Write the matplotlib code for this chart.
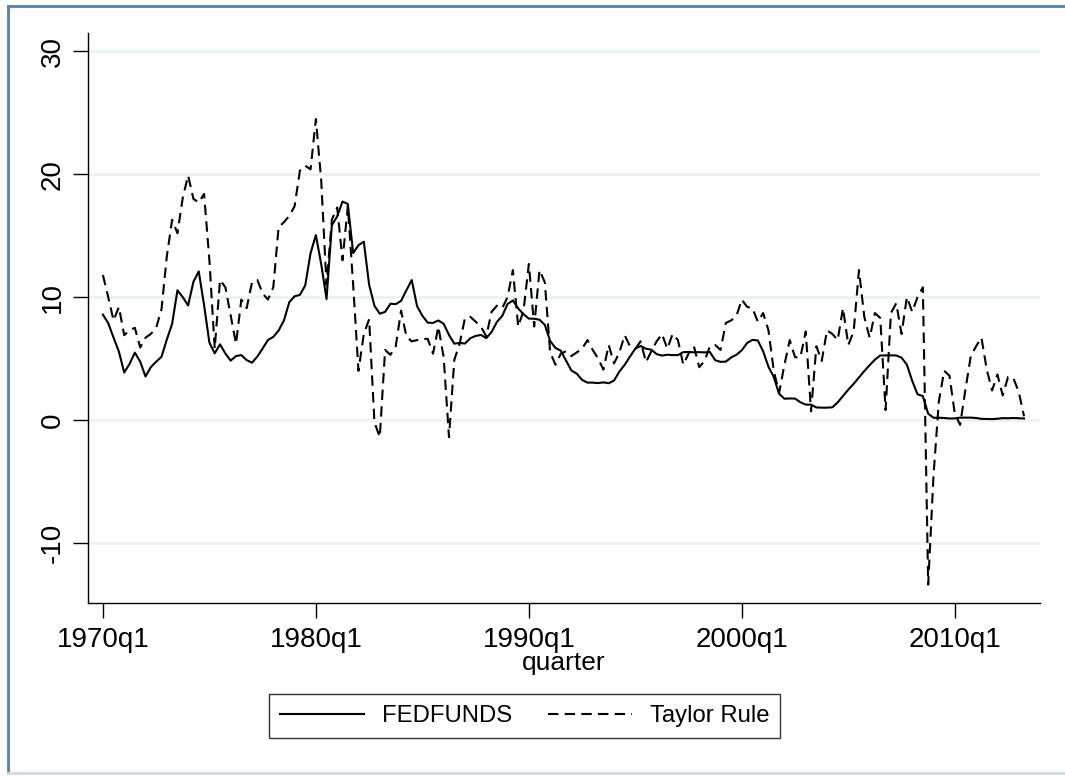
import matplotlib
matplotlib.use("Agg")
import matplotlib.pyplot as plt
from matplotlib.lines import Line2D
from matplotlib import font_manager

plt.rcParams['font.family'] = ['Liberation Sans', 'DejaVu Sans']
plt.rcParams['axes.unicode_minus'] = False

# ---- data (quarterly, 1970q1 .. 2013q2) ----
start_year = 1970
fedfunds = [
    8.57, 7.88, 6.70, 5.57,   3.86, 4.56, 5.48, 4.75,   3.54, 4.30, 4.74, 5.14,
    6.54, 7.82, 10.56, 10.00, 9.32, 11.25, 12.09, 9.35, 6.30, 5.42, 6.16, 5.41,
    4.83, 5.20, 5.28, 4.87,   4.66, 5.16, 5.82, 6.51,   6.76, 7.28, 8.10, 9.58,
    10.07, 10.18, 10.95, 13.58, 15.05, 12.69, 9.84, 15.85, 16.57, 17.78, 17.58, 13.59,
    14.23, 14.51, 11.01, 9.29, 8.65, 8.80, 9.46, 9.43,  9.69, 10.56, 11.39, 9.27,
    8.48, 7.92, 7.90, 8.10,   7.83, 6.92, 6.21, 6.27,   6.22, 6.65, 6.84, 6.92,
    6.66, 7.16, 7.98, 8.47,   9.44, 9.73, 9.08, 8.61,   8.25, 8.24, 8.16, 7.74,
    6.43, 5.86, 5.64, 4.82,   4.02, 3.77, 3.26, 3.04,   3.04, 3.00, 3.06, 2.99,
    3.21, 3.94, 4.49, 5.17,   5.81, 6.02, 5.80, 5.72,   5.36, 5.24, 5.31, 5.28,
    5.28, 5.52, 5.53, 5.51,   5.52, 5.50, 5.53, 4.86,   4.73, 4.75, 5.09, 5.31,
    5.68, 6.27, 6.52, 6.47,   5.59, 4.33, 3.50, 2.13,   1.73, 1.75, 1.74, 1.44,
    1.25, 1.25, 1.02, 1.00,   1.00, 1.03, 1.43, 1.95,   2.47, 2.94, 3.46, 3.98,
    4.46, 4.91, 5.25, 5.25,   5.26, 5.25, 5.07, 4.50,   3.18, 2.09, 1.94, 0.51,
    0.18, 0.18, 0.16, 0.12,   0.13, 0.19, 0.19, 0.19,   0.16, 0.09, 0.08, 0.07,
    0.10, 0.15, 0.14, 0.16,   0.14, 0.12,
]
taylor = [
    11.8, 10.0, 8.1, 9.2,   6.9, 7.3, 7.5, 5.9,    6.7, 7.0, 7.5, 9.0,
    13.3, 16.3, 15.2, 18.1, 19.9, 18.0, 17.7, 18.4, 13.0, 5.8, 11.4, 10.8,
    8.5, 6.2, 9.8, 9.1,     11.2, 11.4, 10.3, 9.8,  10.8, 15.7, 16.1, 16.6,
    17.4, 20.3, 20.7, 20.4, 24.5, 19.5, 11.0, 16.3, 17.3, 13.0, 17.4, 11.0,
    4.0, 7.0, 8.2, -0.2,    -1.4, 5.7, 5.3, 6.0,    8.9, 6.8, 6.4, 6.5,
    6.6, 6.6, 5.4, 7.6,     5.1, -1.4, 4.9, 6.2,    8.3, 8.4, 8.0, 7.6,
    6.8, 8.8, 9.3, 9.1,     10.0, 12.2, 7.6, 8.9,   12.7, 7.6, 12.2, 11.2,
    5.5, 4.5, 5.4, 5.6,     5.2, 5.5, 5.8, 6.5,     5.7, 5.0, 4.1, 6.1,
    4.6, 5.5, 6.9, 6.0,     5.8, 6.4, 4.7, 5.6,     6.4, 7.0, 5.8, 7.0,
    6.5, 4.5, 5.4, 6.0,     4.3, 4.8, 6.0, 6.1,     5.7, 7.9, 8.1, 8.5,
    9.8, 9.2, 9.1, 8.0,     8.7, 7.3, 4.0, 2.2,     4.5, 6.5, 5.1, 5.1,
    7.2, 0.7, 6.0, 4.8,     7.3, 7.0, 6.5, 9.1,     6.1, 7.2, 12.2, 8.4,
    6.7, 8.7, 8.3, 0.8,     8.7, 9.5, 7.0, 10.0,    8.8, 10.0, 10.8, -13.4,
    -4.5, 1.5, 4.0, 3.6,    0.5, -0.4, 2.5, 5.2,    6.0, 6.7, 4.1, 2.4,
    3.7, 2.0, 3.5, 3.4,     2.3, 0.3,
]
xtick_labels = ["1970q1", "1980q1", "1990q1", "2000q1", "2010q1"]
ytick_values = [-10, 0, 10, 20, 30]
series_names = ["FEDFUNDS", "Taylor Rule"]

# quarter index relative to 1970q1
q = list(range(len(fedfunds)))
xtick_pos = [(int(lbl[:4]) - start_year) * 4 for lbl in xtick_labels]

installed = {f.name for f in font_manager.fontManager.ttflist}
if 'Liberation Sans Narrow' in installed:
    leg_family, leg_size = ['Liberation Sans Narrow', 'DejaVu Sans'], 20.5
else:
    leg_family, leg_size = ['Liberation Sans', 'DejaVu Sans'], 17.2
em = leg_size * 100 / 72.0

W, H = 1065, 776
fig = plt.figure(figsize=(W / 100, H / 100), dpi=100)
fig.patch.set_facecolor("white")

ax = fig.add_axes([88 / W, 1 - 603 / H, (1040 - 88) / W, (603 - 33) / H])
ax.plot(q, fedfunds, color="black", lw=1.5, solid_joinstyle="round")
ax.plot(q, taylor, color="black", lw=1.5, dashes=(5, 3))

ax.set_xlim(-2.8, 176)
ax.set_ylim(-14.9, 31.5)
ax.set_yticks(ytick_values)
ax.set_yticklabels([str(v) for v in ytick_values], rotation=90, va="center")
ax.set_xticks(xtick_pos)
ax.set_xticklabels(xtick_labels)
ax.tick_params(axis="both", direction="out", length=11, width=1.0,
               labelsize=20, color="black")
ax.tick_params(axis="y", pad=5)
ax.tick_params(axis="x", pad=6)
ax.set_xlabel("quarter", fontsize=19, labelpad=-1)

for s in ["top", "right"]:
    ax.spines[s].set_visible(False)
for s in ["left", "bottom"]:
    ax.spines[s].set_linewidth(1.0)
ax.yaxis.grid(True, color="#eaf2f3", lw=2)
ax.set_axisbelow(True)

handles = [Line2D([], [], color="black", lw=1.5),
           Line2D([], [], color="black", lw=1.5, dashes=(5, 3))]
leg = fig.legend(handles, series_names, loc="center",
                 bbox_to_anchor=(524.5 / W, 1 - 716 / H), ncol=2,
                 prop={'family': leg_family, 'size': leg_size},
                 frameon=True, fancybox=False,
                 handlelength=84 / em, handletextpad=18 / em,
                 columnspacing=36 / em, borderpad=11 / em,
                 borderaxespad=0)
leg.get_frame().set_edgecolor("black")
leg.get_frame().set_linewidth(1.0)

# outer frame of the picture
fig.add_artist(Line2D([7.5 / W, 7.5 / W], [1 - 6 / H, 1 - 773 / H],
                      transform=fig.transFigure, color="#4f81bd", lw=2))
fig.add_artist(Line2D([7.5 / W, 1.0], [1 - 6 / H, 1 - 6 / H],
                      transform=fig.transFigure, color="#4f81bd", lw=2))
fig.add_artist(Line2D([7.5 / W, 1.0], [1 - 773 / H, 1 - 773 / H],
                      transform=fig.transFigure, color="#d3dae6", lw=2))

fig.savefig("out.png", dpi=100, facecolor="white")
